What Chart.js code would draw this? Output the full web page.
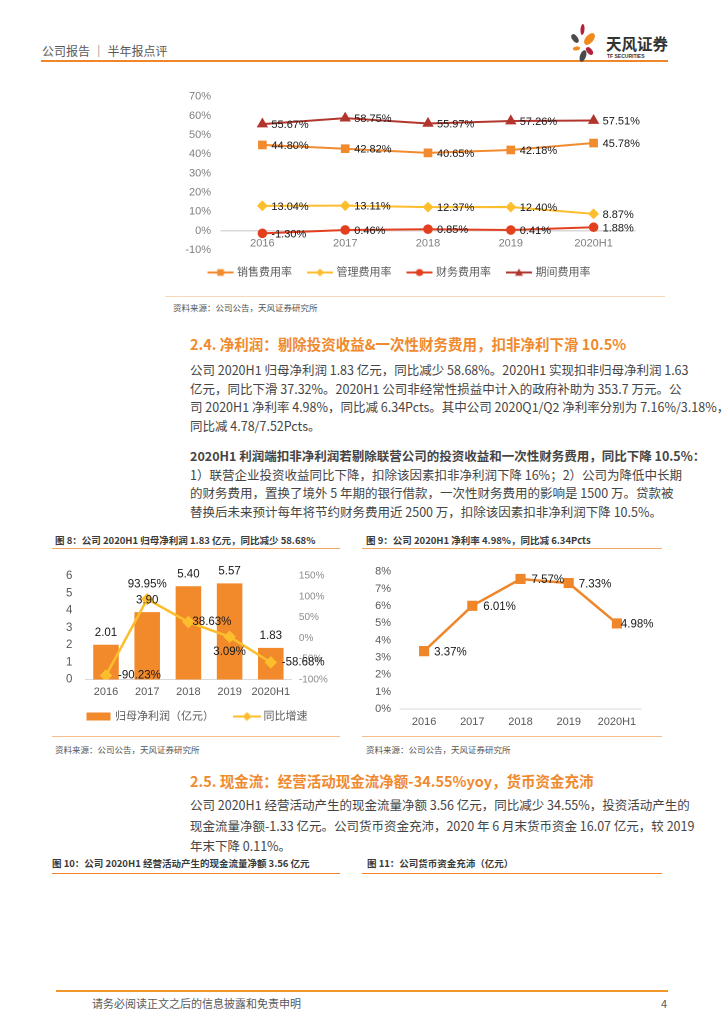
<!DOCTYPE html>
<html><head><meta charset="utf-8">
<script src="https://cdn.jsdelivr.net/npm/chart.js@4.4.0/dist/chart.umd.min.js"></script>
<style>
html,body{margin:0;padding:0;background:#fff;}
body{width:724px;height:1024px;position:relative;overflow:hidden;font-family:"Noto Sans CJK SC","Liberation Sans",sans-serif;color:#404040;}
.a{position:absolute;white-space:nowrap;}
.hl{position:absolute;height:0;}
.body{position:absolute;left:190px;width:475px;font-size:12.5px;line-height:18px;height:18px;white-space:nowrap;text-align:justify;text-align-last:justify;color:#454545;}
.last{text-align-last:left;}
.h2{position:absolute;left:190px;font-size:14.5px;font-weight:bold;color:#F08A2E;line-height:20px;white-space:nowrap;}
.ft{position:absolute;font-size:9.5px;font-weight:bold;color:#3a3a3a;line-height:12px;white-space:nowrap;}
.src{position:absolute;font-size:8.5px;color:#555;line-height:12px;white-space:nowrap;}
.cbox{position:absolute;}
</style></head><body>

<!-- header -->
<div class="a" style="left:42px;top:42px;font-size:12px;line-height:18px;color:#595959;">公司报告 ｜ 半年报点评</div>
<div class="hl" style="left:41px;top:60px;width:627px;border-top:2px solid #F0862A;"></div>
<svg class="a" style="left:566px;top:20px;" width="36" height="44" viewBox="566 20 36 44">
  <ellipse cx="582.5" cy="29.5" rx="2" ry="5.5" fill="#B0233A" transform="rotate(5 582.5 29.5)"/>
  <ellipse cx="589.5" cy="39" rx="4" ry="7" fill="#F08A1E" transform="rotate(40 589.5 39)"/>
  <ellipse cx="575" cy="38.5" rx="2.8" ry="5" fill="#4A4A4A" transform="rotate(-35 575 38.5)"/>
  <ellipse cx="576.5" cy="48.5" rx="3.6" ry="2" fill="#F08A1E" transform="rotate(-10 576.5 48.5)"/>
  <ellipse cx="589.5" cy="51" rx="2.6" ry="4.5" fill="#B0233A" transform="rotate(-40 589.5 51)"/>
  <ellipse cx="583" cy="56" rx="3" ry="6" fill="#4A4A4A" transform="rotate(20 583 56)"/>
</svg>
<div class="a" style="left:606px;top:33px;font-size:15.5px;line-height:20px;font-weight:bold;color:#333;">天风证券</div>
<div class="a" style="left:607px;top:53px;font-size:5px;line-height:6px;color:#333;font-family:'Liberation Sans';font-weight:bold;">TF SECURITIES</div>

<!-- chart 1 -->
<div class="cbox" style="left:165px;top:80px;width:500px;height:208px;"><canvas id="c1"></canvas></div>
<div class="hl" style="left:165px;top:296px;width:500px;border-top:1.5px solid #FBD7B8;"></div>
<div class="src" style="left:173px;top:301px;">资料来源：公司公告，天风证券研究所</div>

<!-- section 2.4 -->
<div class="h2" style="top:334px;">2.4. 净利润：剔除投资收益&amp;一次性财务费用，扣非净利下滑 10.5%</div>
<div class="body" style="top:361px;">公司 2020H1 归母净利润 1.83 亿元，同比减少 58.68%。2020H1 实现扣非归母净利润 1.63</div>
<div class="body" style="top:379.5px;">亿元，同比下滑 37.32%。2020H1 公司非经常性损益中计入的政府补助为 353.7 万元。公</div>
<div class="body" style="top:398px;">司 2020H1 净利率 4.98%，同比减 6.34Pcts。其中公司 2020Q1/Q2 净利率分别为 7.16%/3.18%，</div>
<div class="body last" style="top:416.5px;">同比减 4.78/7.52Pcts。</div>
<div class="body" style="top:447px;font-weight:bold;">2020H1 利润端扣非净利润若剔除联营公司的投资收益和一次性财务费用，同比下降 10.5%：</div>
<div class="body" style="top:465.5px;">1）联营企业投资收益同比下降，扣除该因素扣非净利润下降 16%；2）公司为降低中长期</div>
<div class="body" style="top:484px;">的财务费用，置换了境外 5 年期的银行借款，一次性财务费用的影响是 1500 万。贷款被</div>
<div class="body last" style="top:502.5px;">替换后未来预计每年将节约财务费用近 2500 万，扣除该因素扣非净利润下降 10.5%。</div>

<!-- fig 8 -->
<div class="ft" style="left:55px;top:534px;">图 8：公司 2020H1 归母净利润 1.83 亿元，同比减少 58.68%</div>
<div class="hl" style="left:52px;top:548px;width:288px;border-top:1.5px solid #F3A763;"></div>
<div class="cbox" style="left:55px;top:556px;width:285px;height:176px;"><canvas id="c2"></canvas></div>
<div class="hl" style="left:52px;top:736px;width:288px;border-top:1.5px solid #F6BE8E;"></div>
<div class="src" style="left:55px;top:743px;">资料来源：公司公告，天风证券研究所</div>

<!-- fig 9 -->
<div class="ft" style="left:366px;top:534px;">图 9：公司 2020H1 净利率 4.98%，同比减 6.34Pcts</div>
<div class="hl" style="left:362px;top:548px;width:300px;border-top:1.5px solid #F3A763;"></div>
<div class="cbox" style="left:362px;top:556px;width:300px;height:175px;"><canvas id="c3"></canvas></div>
<div class="hl" style="left:362px;top:736px;width:300px;border-top:1.5px solid #F6BE8E;"></div>
<div class="src" style="left:366px;top:743px;">资料来源：公司公告，天风证券研究所</div>

<!-- section 2.5 -->
<div class="h2" style="top:771px;">2.5. 现金流：经营活动现金流净额-34.55%yoy，货币资金充沛</div>
<div class="body" style="top:796px;">公司 2020H1 经营活动产生的现金流量净额 3.56 亿元，同比减少 34.55%，投资活动产生的</div>
<div class="body" style="top:816.5px;">现金流量净额-1.33 亿元。公司货币资金充沛，2020 年 6 月末货币资金 16.07 亿元，较 2019</div>
<div class="body last" style="top:837px;">年末下降 0.11%。</div>

<div class="ft" style="left:52px;top:857px;">图 10：公司 2020H1 经营活动产生的现金流量净额 3.56 亿元</div>
<div class="hl" style="left:52px;top:873px;width:288px;border-top:1.5px solid #F0862A;"></div>
<div class="ft" style="left:367px;top:857px;">图 11：公司货币资金充沛（亿元）</div>
<div class="hl" style="left:362px;top:873px;width:300px;border-top:1.5px solid #F0862A;"></div>

<!-- footer -->
<div class="hl" style="left:56px;top:990px;width:612px;border-top:2px solid #F0962A;"></div>
<div class="a" style="left:92px;top:995px;font-size:11px;line-height:16px;color:#595959;">请务必阅读正文之后的信息披露和免责申明</div>
<div class="a" style="left:661px;top:995px;font-size:11px;line-height:16px;color:#595959;">4</div>

<script>
const FONT = "'Liberation Sans', 'Noto Sans CJK SC', sans-serif";

// ---- Data: expense ratios (chart 1) ----
const years = ['2016', '2017', '2018', '2019', '2020H1'];
const salesRate = [44.80, 42.82, 40.65, 42.18, 45.78];
const adminRate = [13.04, 13.11, 12.37, 12.40, 8.87];
const financeRate = [-1.30, 0.46, 0.85, 0.41, 1.88];
const periodRate = [55.67, 58.75, 55.97, 57.26, 57.51];
const seriesNames1 = ['销售费用率', '管理费用率', '财务费用率', '期间费用率'];

// ---- Data: fig 8 ----
const netProfit = [2.01, 3.90, 5.40, 5.57, 1.83];
const netProfitYoY = [-90.23, 93.95, 38.63, 3.09, -58.68];
const seriesNames2 = ['归母净利润（亿元）', '同比增速'];

// ---- Data: fig 9 ----
const netMargin = [3.37, 6.01, 7.57, 7.33, 4.98];

// ---- helpers ----
function legendImg(color, style, w, h, r) {
  const c = document.createElement('canvas');
  c.width = w; c.height = h;
  const g = c.getContext('2d');
  const cx = w / 2, cy = h / 2;
  g.fillStyle = color; g.strokeStyle = color;
  if (style === 'bar') { g.fillRect(0, cy - 4, w, 8); return c; }
  g.lineWidth = 2; g.beginPath(); g.moveTo(0, cy); g.lineTo(w, cy); g.stroke();
  g.beginPath();
  if (style === 'rect') g.rect(cx - r, cy - r, 2 * r, 2 * r);
  else if (style === 'rectRot') { g.moveTo(cx, cy - r); g.lineTo(cx + r, cy); g.lineTo(cx, cy + r); g.lineTo(cx - r, cy); g.closePath(); }
  else if (style === 'circle') g.arc(cx, cy, r, 0, Math.PI * 2);
  else if (style === 'triangle') { g.moveTo(cx, cy - r); g.lineTo(cx + r, cy + r * 0.8); g.lineTo(cx - r, cy + r * 0.8); g.closePath(); }
  g.fill();
  return c;
}

const valueLabels = {
  id: 'valueLabels',
  afterDatasetsDraw(chart) {
    const ctx = chart.ctx;
    chart.data.datasets.forEach((ds, i) => {
      const meta = chart.getDatasetMeta(i);
      if (!ds.vl || meta.hidden) return;
      ctx.save();
      ctx.font = (ds.vl.size || 11) + 'px ' + FONT;
      ctx.fillStyle = '#1a1a1a';
      ctx.textBaseline = 'middle';
      meta.data.forEach((el, j) => {
        const pos = Array.isArray(ds.vl.pos) ? ds.vl.pos[j] : ds.vl.pos;
        const txt = ds.vl.fmt(ds.data[j]);
        let x = el.x, y = el.y;
        if (pos === 'right') { ctx.textAlign = 'left'; x += (Array.isArray(ds.vl.dx) ? ds.vl.dx[j] : ds.vl.dx); y += ds.vl.dy || 0; }
        else if (pos === 'top') { ctx.textAlign = 'center'; y -= ds.vl.off; }
        else { ctx.textAlign = 'center'; y += ds.vl.off; }
        ctx.fillText(txt, x, y);
      });
      ctx.restore();
    });
  }
};

function imgLegendLabels(chart) {
  const items = Chart.defaults.plugins.legend.labels.generateLabels(chart);
  items.forEach(it => { it.pointStyle = chart.data.datasets[it.datasetIndex].legendImg; });
  return items.sort((a, b) => a.datasetIndex - b.datasetIndex);
}

const pct2 = v => v.toFixed(2) + '%';
const tickFont = { family: FONT, size: 11 };

// ---- Chart 1 ----
const colors1 = ['#F28A2E', '#FDBE2E', '#E2401F', '#B2362E'];
const styles1 = ['rect', 'rectRot', 'circle', 'triangle'];
const radii1 = [4.7, 4, 3.8, 4.6];
const legR1 = [3.3, 4, 3.6, 4];
const data1 = [salesRate, adminRate, financeRate, periodRate];

new Chart(document.getElementById('c1'), {
  type: 'line',
  data: {
    labels: years,
    datasets: data1.map((d, i) => ({
      label: seriesNames1[i], data: d,
      borderColor: colors1[i], backgroundColor: colors1[i],
      borderWidth: 2, tension: 0,
      pointStyle: styles1[i], pointRadius: radii1[i], pointHoverRadius: radii1[i],
      legendImg: legendImg(colors1[i], styles1[i], 26, 12, legR1[i]),
      vl: { pos: 'right', dx: 9, dy: 1, fmt: pct2 }
    }))
  },
  options: {
    responsive: true, maintainAspectRatio: false, animation: false,
    devicePixelRatio: 2,
    layout: { padding: { top: 9, right: 30, bottom: 0, left: 0 } },
    scales: {
      x: {
        position: { y: 0 },
        offset: true,
        grid: { display: false, drawTicks: false },
        border: { display: true, color: '#D9D9D9', width: 1.5 },
        ticks: { color: '#7F7F7F', font: tickFont, padding: 6, maxRotation: 0, autoSkip: false }
      },
      y: {
        min: -10, max: 70,
        grid: { display: false, drawTicks: false },
        border: { display: false },
        ticks: { stepSize: 10, color: '#7F7F7F', font: tickFont, padding: 10, callback: v => v + '%' },
        afterFit: s => { s.width = 56; }
      }
    },
    plugins: {
      tooltip: { enabled: false },
      legend: {
        position: 'bottom',
        labels: {
          usePointStyle: true, pointStyleWidth: 22, boxHeight: 11,
          font: { family: FONT, size: 11 }, color: '#595959', padding: 17,
          generateLabels: imgLegendLabels
        }
      }
    }
  },
  plugins: [valueLabels]
});

// ---- Chart 2 (fig 8) ----
new Chart(document.getElementById('c2'), {
  data: {
    labels: years,
    datasets: [
      {
        type: 'bar', label: seriesNames2[0], data: netProfit, yAxisID: 'y',
        backgroundColor: '#F28A2B', borderWidth: 0,
        barPercentage: 0.62, categoryPercentage: 1, order: 1,
        legendImg: legendImg('#F28A2B', 'bar', 24, 10, 0),
        vl: { pos: 'top', off: 12, fmt: v => v.toFixed(2), size: 11.5 }
      },
      {
        type: 'line', label: seriesNames2[1], data: netProfitYoY, yAxisID: 'y1',
        borderColor: '#FDBE2E', backgroundColor: '#FDBE2E', borderWidth: 2.5, tension: 0,
        pointStyle: 'rectRot', pointRadius: 4.5, pointHoverRadius: 4.5, order: 0,
        legendImg: legendImg('#FDBE2E', 'rectRot', 28, 12, 4.5),
        vl: { pos: ['right', 'top', 'right', 'bottom', 'right'], dx: [12, 0, 4, 0, 11], off: 15, fmt: pct2, size: 11.5 }
      }
    ]
  },
  options: {
    responsive: true, maintainAspectRatio: false, animation: false,
    devicePixelRatio: 2,
    layout: { padding: { top: 13, right: 0, bottom: 0, left: 0 } },
    scales: {
      x: {
        position: { y: 0 },
        offset: true,
        grid: { display: false, drawTicks: false },
        border: { display: true, color: '#D9D9D9', width: 1 },
        ticks: { color: '#595959', font: tickFont, padding: 6, maxRotation: 0, autoSkip: false }
      },
      y: {
        position: 'left', min: 0, max: 6,
        grid: { display: false, drawTicks: false }, border: { display: false },
        ticks: { stepSize: 1, color: '#595959', font: { family: FONT, size: 11.5 }, padding: 13 },
        afterFit: s => { s.width = 30.4; }
      },
      y1: {
        position: 'right', min: -100, max: 150,
        grid: { display: false, drawTicks: false }, border: { display: false },
        ticks: { stepSize: 50, color: '#8C8C8C', font: { family: FONT, size: 10 }, padding: 7.5, callback: v => v + '%' },
        afterFit: s => { s.width = 48.6; }
      }
    },
    plugins: {
      tooltip: { enabled: false },
      legend: {
        position: 'bottom',
        title: { display: true, text: ' ', font: { size: 1, lineHeight: 1 }, padding: { top: 4.25, bottom: 4.25 } },
        labels: {
          usePointStyle: true, pointStyleWidth: 22, boxHeight: 11,
          font: { family: FONT, size: 11 }, color: '#595959', padding: 22,
          generateLabels: imgLegendLabels
        }
      }
    }
  },
  plugins: [valueLabels]
});

// ---- Chart 3 (fig 9) ----
new Chart(document.getElementById('c3'), {
  type: 'line',
  data: {
    labels: years,
    datasets: [{
      label: '净利率', data: netMargin,
      borderColor: '#F0862A', backgroundColor: '#F0862A', borderWidth: 2.5, tension: 0,
      pointStyle: 'rect', pointRadius: 5.4, pointHoverRadius: 5.4,
      vl: { pos: 'right', dx: [10, 11, 11, 10, 4], dy: 1, fmt: pct2, size: 11.5 }
    }]
  },
  options: {
    responsive: true, maintainAspectRatio: false, animation: false,
    devicePixelRatio: 2,
    layout: { padding: { top: 12, right: 21, bottom: 0, left: 0 } },
    scales: {
      x: {
        offset: true,
        grid: { display: false, drawTicks: false },
        border: { display: true, color: '#D9D9D9', width: 1 },
        ticks: { color: '#595959', font: tickFont, padding: 6.5, maxRotation: 0, autoSkip: false },
        afterFit: s => { s.height = 22; }
      },
      y: {
        min: 0, max: 8,
        grid: { display: false, drawTicks: false }, border: { display: false },
        ticks: { stepSize: 1, color: '#595959', font: tickFont, padding: 9, callback: v => v + '%' },
        afterFit: s => { s.width = 38; }
      }
    },
    plugins: { tooltip: { enabled: false }, legend: { display: false } }
  },
  plugins: [valueLabels]
});
</script>
</body></html>
